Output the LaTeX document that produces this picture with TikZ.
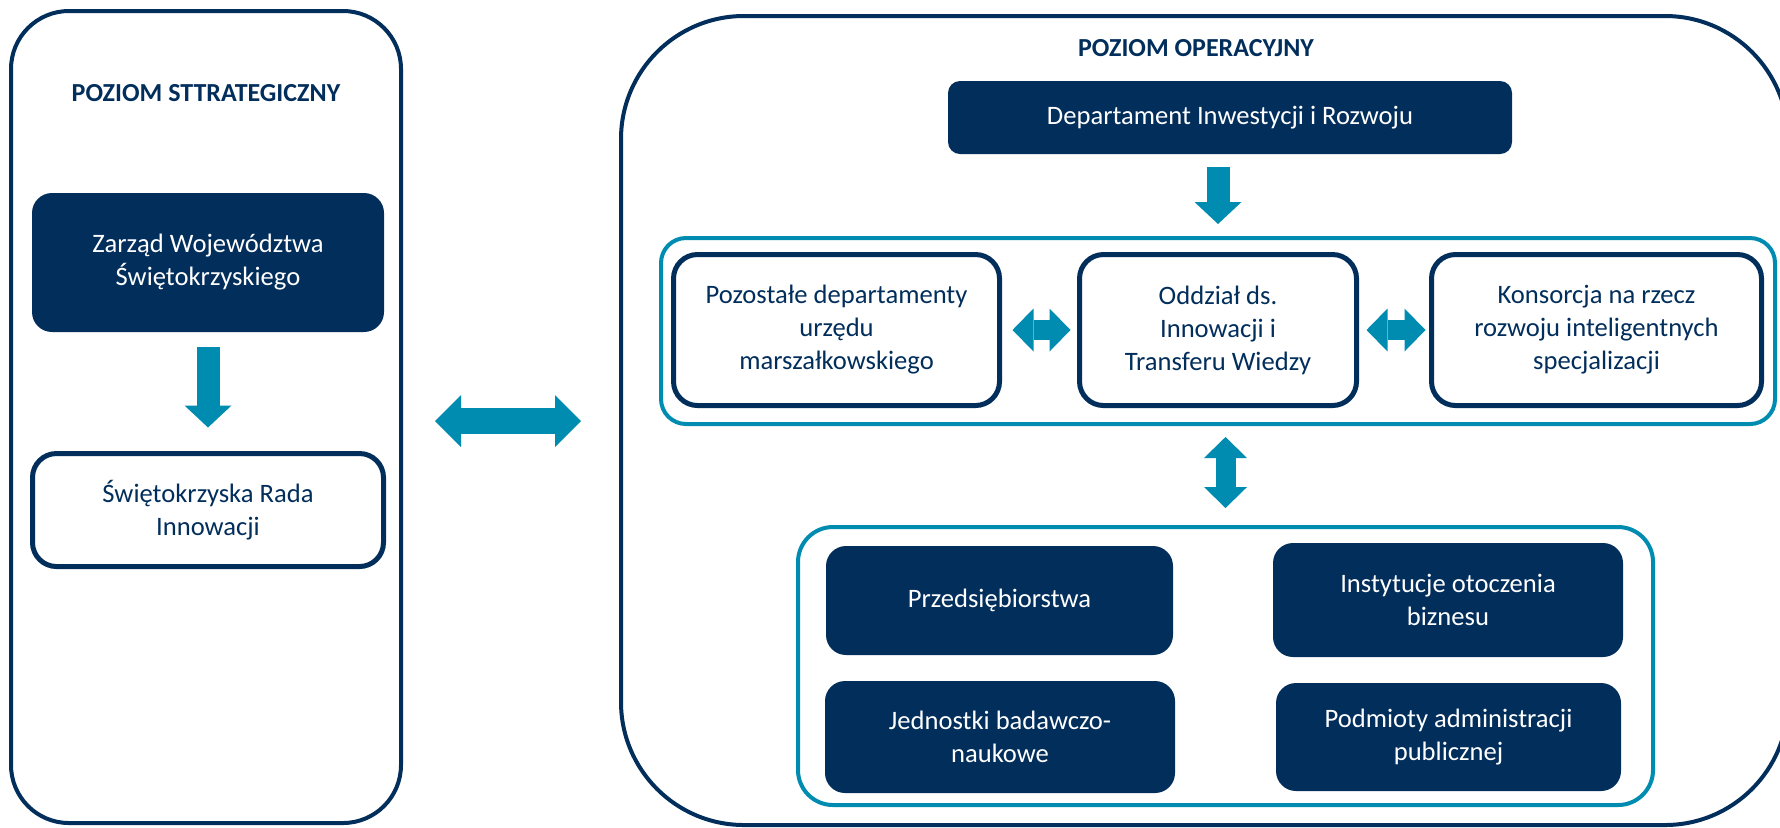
\documentclass[tikz,border=0pt]{standalone}
\usepackage{fontspec}
\setmainfont{Carlito}
\usetikzlibrary{positioning}
\usetikzlibrary{arrows.meta}
\definecolor{granat}{HTML}{022E5C}
\definecolor{morski}{HTML}{008CB0}
\tikzset{tekst/.style={align=center, inner sep=0pt, font=\fontsize{13.3}{16.5}\selectfont},
ciemny/.style={tekst, fill=granat, text=white, rounded corners=10pt},
jasny/.style={tekst, draw=granat, fill=white, text=granat, line width=2.5pt, rounded corners=12pt},
ramka/.style={draw=morski, line width=2pt}}

\begin{document}
\begin{tikzpicture}[x=0.5pt, y=-0.5pt,
	panel/.style={draw=granat, line width=2pt},
	tytul/.style={text=granat, font=\fontsize{13}{16}\selectfont\bfseries},
	blok/.style={morski, line width=11.5pt, -{Triangle[length=11pt, width=23.5pt, line width=0pt]}},
	dwu/.style={morski, line width=10pt, {Triangle[length=10.5pt, width=21.5pt, line width=0pt]}-{Triangle[length=10.5pt, width=21.5pt, line width=0pt]}}]
	\useasboundingbox (0,0) rectangle (1780,827);
	% poziom strategiczny
	\node[panel, rounded corners=29pt, minimum width=195pt, minimum height=406pt] (strat) at (206,417) {};
	\node[tytul] (tstrat) at (206,93) {POZIOM STTRATEGICZNY};
	\node[ciemny, minimum width=176pt, minimum height=69.5pt] (zarzad) at (208,262.5) {Zarząd Województwa\\Świętokrzyskiego};
	\node[jasny, minimum width=175.5pt, minimum height=56.5pt] (rada) at (208,510) {Świętokrzyska Rada\\Innowacji};
	% poziom operacyjny
	\node[panel, rounded corners=61.5pt, minimum width=583.5pt, minimum height=404.5pt] (oper) at (1204.5,420.5) {};
	\node[tytul] (toper) at (1196,48) {POZIOM OPERACYJNY};
	\node[ciemny, rounded corners=6pt, minimum width=282pt, minimum height=36.5pt] (dep) at (1230,117.5) {Departament Inwestycji i Rozwoju};
	\node[ramka, rounded corners=12.5pt, minimum width=557pt, minimum height=93pt] (mid) at (1218,331) {};
	\node[jasny, minimum width=163pt, minimum height=75.5pt] (pozostale) at (836.5,330) {Pozostałe departamenty\\urzędu\\marszałkowskiego};
	\node[jasny, minimum width=138.5pt, minimum height=75.5pt] (oddzial) at (1218,330) {Oddział ds.\\Innowacji i\\Transferu Wiedzy};
	\node[jasny, minimum width=165pt, minimum height=75.5pt] (konsorcja) at (1596.5,330) {Konsorcja na rzecz\\rozwoju inteligentnych\\specjalizacji};
	\node[ramka, rounded corners=17.5pt, minimum width=427.5pt, minimum height=139pt] (bot) at (1225.5,666) {};
	\node[ciemny, minimum width=173.5pt, minimum height=54.5pt] (przeds) at (999.5,600.5) {Przedsiębiorstwa};
	\node[ciemny, minimum width=175pt, minimum height=57pt] (instyt) at (1448,600) {Instytucje otoczenia\\biznesu};
	\node[ciemny, minimum width=175pt, minimum height=56pt] (jednostki) at (1000,737) {Jednostki badawczo-\\naukowe};
	\node[ciemny, minimum width=172.5pt, minimum height=54pt] (podmioty) at (1448.5,737) {Podmioty administracji\\publicznej};
	% strzalki
	\draw[blok, shorten <=7.5pt, shorten >=11.75pt] (zarzad) -- (rada);
	\draw[blok, shorten <=6.5pt, shorten >=6pt] (mid.north |- dep.south) -- (mid.north);
	\draw[dwu, shorten <=5.5pt, shorten >=8.5pt] (bot.north |- mid.south) -- (bot.north);
	\draw[dwu, shorten <=5.25pt, shorten >=3.25pt] (pozostale) -- (oddzial);
	\draw[dwu, shorten <=3.75pt, shorten >=1.75pt] (oddzial) -- (konsorcja);
	\coordinate (srodek) at ([yshift=-2pt]strat.east);
	\draw[dwu, line width=13pt, {Triangle[length=13pt, width=26pt, line width=0pt]}-{Triangle[length=13pt, width=26pt, line width=0pt]}, shorten <=16pt, shorten >=19pt] (srodek) -- (srodek -| oper.west);
\end{tikzpicture}
\end{document}
